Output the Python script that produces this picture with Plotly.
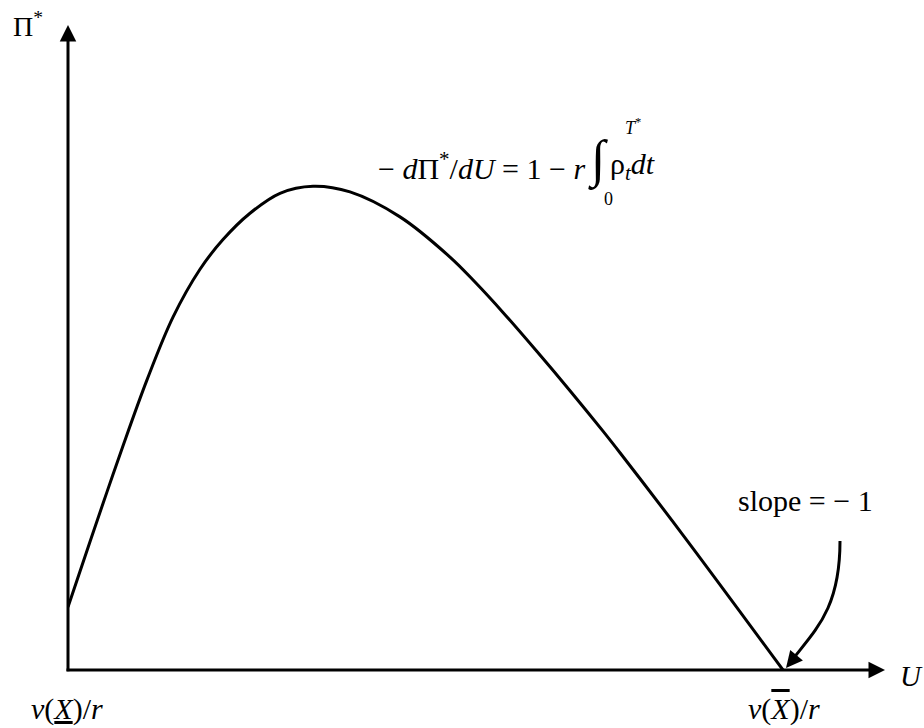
import plotly.graph_objects as go

# Curve data: U (promised utility) and Pi* (principal's value)
U_vals = [0.0, 0.23, 0.39, 0.54, 0.79, 1.05, 1.32, 1.55, 1.82, 2.12, 2.45,
          2.82, 3.32, 3.82, 4.07, 4.35, 4.69, 5.02, 5.35, 5.52, 6.15, 7.15]
Pi_vals = [0.467, 0.973, 1.320, 1.640, 2.150, 2.615, 2.970, 3.190, 3.385, 3.533, 3.585,
           3.543, 3.358, 3.060, 2.875, 2.650, 2.360, 2.070, 1.770, 1.610, 1.000, 0.0]

X_MAX = 8.17
Y_MAX = 4.78

W, H = 924, 728
ML, MT = 68, 25
PW, PH = 817, 645
MR = W - ML - PW
MB = H - MT - PH

# pixel -> paper / data coordinates (axes origin at pixel 68,670)
def sx(px):
    return (px - ML) / PW

def sy(py):
    return (MT + PH - py) / PH

def dx(px):
    return (px - ML) / 100.0

def dy(py):
    return (MT + PH - py) / 135.0

FONT = "Liberation Serif"
BLACK = "#000000"

fig = go.Figure()
fig.add_trace(go.Scatter(x=U_vals, y=Pi_vals, mode="lines",
                         line=dict(color=BLACK, width=3, shape="spline", smoothing=1.0),
                         hoverinfo="skip", showlegend=False, cliponaxis=False))

annotations = []
# axes with arrows
annotations.append(dict(x=X_MAX, y=0, ax=-0.03, ay=0, xref="x", yref="y", axref="x", ayref="y",
                        showarrow=True, arrowhead=2, arrowsize=1.1, arrowwidth=3, arrowcolor=BLACK, text=""))
annotations.append(dict(x=0, y=Y_MAX, ax=0, ay=-0.02, xref="x", yref="y", axref="x", ayref="y",
                        showarrow=True, arrowhead=2, arrowsize=1.1, arrowwidth=3, arrowcolor=BLACK, text=""))

def txt(text, px, py, size=28, xanchor="center", yanchor="middle"):
    annotations.append(dict(x=sx(px), y=sy(py), xref="paper", yref="paper", text=text, showarrow=False,
                            xanchor=xanchor, yanchor=yanchor,
                            font=dict(family=FONT, size=size, color=BLACK)))

txt("Π<sup>*</sup>", 28, 24, size=28)
txt("<i>U</i>", 911, 676, size=29)
txt("<i>v</i>(<i><u>X</u></i>)/<i>r</i>", 67, 709, size=30)
txt("<i>v</i>(<span style='text-decoration:overline'><i>X</i></span>)/<i>r</i>", 784, 709, size=30)
txt("slope = − 1", 805, 500, size=30)

# formula
txt("− <i>d</i>Π<sup>*</sup>/<i>dU</i> = 1 − <i>r</i>", 587, 166, size=30, xanchor="right")
txt("∫", 598, 160, size=52)
txt("ρ<sub><i>t</i></sub><i>dt</i>", 608, 166, size=30, xanchor="left")
txt("<i>T</i><sup>*</sup>", 633, 127, size=18)
txt("0", 608, 199, size=18)

# curved pointer arrow
c0 = (dx(840), dy(541))
c1 = (dx(840), dy(610))
c2 = (dx(815), dy(630))
c3 = (dx(789), dy(664))
path = f"M {c0[0]},{c0[1]} C {c1[0]},{c1[1]} {c2[0]},{c2[1]} {c3[0]},{c3[1]}"
fig.add_shape(type="path", path=path, xref="x", yref="y", line=dict(color=BLACK, width=3))
annotations.append(dict(x=dx(786), y=dy(668), ax=dx(796), ay=dy(656), xref="x", yref="y",
                        axref="x", ayref="y", showarrow=True, arrowhead=2, arrowsize=1.1,
                        arrowwidth=3, arrowcolor=BLACK, text=""))

fig.update_layout(
    width=W, height=H,
    margin=dict(l=ML, r=MR, t=MT, b=MB),
    plot_bgcolor="white", paper_bgcolor="white",
    xaxis=dict(range=[0, X_MAX], visible=False, fixedrange=True),
    yaxis=dict(range=[0, Y_MAX], visible=False, fixedrange=True),
    annotations=annotations,
    showlegend=False,
)

fig.write_html("out.html", config={"displayModeBar": False},
               post_script="document.body.style.margin='0px';document.body.style.overflow='hidden';")
